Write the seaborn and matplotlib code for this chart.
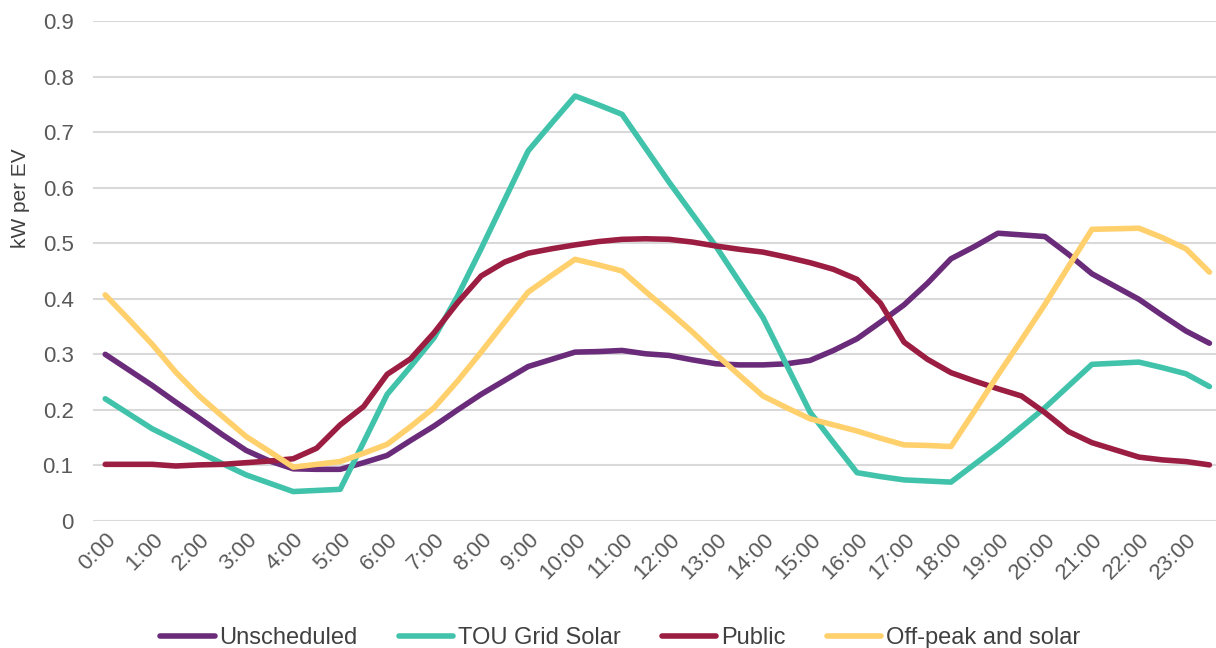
import numpy as np
import pandas as pd
import seaborn as sns
import matplotlib.pyplot as plt

# half-hourly load profiles, kW per EV
hours = [h / 2 for h in range(48)]
tick_labels = [f"{h}:00" for h in range(24)]

unscheduled = [0.300, 0.272, 0.244, 0.214, 0.185, 0.155, 0.127, 0.108, 0.094, 0.093,
               0.093, 0.105, 0.118, 0.145, 0.171, 0.200, 0.228, 0.253, 0.278, 0.291,
               0.304, 0.305, 0.307, 0.301, 0.298, 0.290, 0.283, 0.281, 0.281, 0.283,
               0.289, 0.307, 0.328, 0.358, 0.389, 0.428, 0.472, 0.494, 0.518, 0.515,
               0.512, 0.480, 0.445, 0.422, 0.399, 0.370, 0.342, 0.320]
tou_grid_solar = [0.220, 0.193, 0.166, 0.145, 0.124, 0.103, 0.083, 0.068, 0.053, 0.055,
                  0.057, 0.142, 0.228, 0.278, 0.330, 0.405, 0.490, 0.578, 0.666, 0.716,
                  0.765, 0.749, 0.732, 0.671, 0.610, 0.552, 0.494, 0.430, 0.366, 0.281,
                  0.196, 0.141, 0.087, 0.080, 0.074, 0.072, 0.070, 0.102, 0.134, 0.169,
                  0.204, 0.243, 0.282, 0.284, 0.286, 0.276, 0.265, 0.242]
public = [0.102, 0.102, 0.102, 0.099, 0.101, 0.102, 0.105, 0.108, 0.112, 0.131,
          0.173, 0.206, 0.264, 0.292, 0.339, 0.393, 0.441, 0.466, 0.482, 0.490,
          0.497, 0.503, 0.507, 0.508, 0.507, 0.502, 0.495, 0.489, 0.484, 0.475,
          0.465, 0.453, 0.435, 0.392, 0.322, 0.291, 0.267, 0.252, 0.238, 0.225,
          0.195, 0.161, 0.141, 0.128, 0.115, 0.110, 0.107, 0.101]
offpeak_solar = [0.407, 0.363, 0.318, 0.268, 0.225, 0.188, 0.152, 0.125, 0.097, 0.102,
                 0.107, 0.122, 0.138, 0.170, 0.204, 0.252, 0.304, 0.358, 0.412, 0.442,
                 0.471, 0.461, 0.450, 0.413, 0.377, 0.340, 0.300, 0.262, 0.225, 0.204,
                 0.184, 0.173, 0.162, 0.149, 0.137, 0.136, 0.134, 0.198, 0.263, 0.326,
                 0.390, 0.458, 0.525, 0.526, 0.527, 0.510, 0.490, 0.448]

series_names = ["Unscheduled", "TOU Grid Solar", "Public", "Off-peak and solar"]
colors = ["#6a2c7a", "#40c3aa", "#9b1e42", "#ffd06c"]

frames = []
for name, vals in zip(series_names, [unscheduled, tou_grid_solar, public, offpeak_solar]):
    frames.append(pd.DataFrame({"hour": hours, "kw": vals, "series": name}))
df = pd.concat(frames, ignore_index=True)

sns.set_theme(style="white")
plt.rcParams["font.family"] = ["Liberation Sans", "DejaVu Sans"]

fig = plt.figure(figsize=(12.16, 6.48), dpi=100)
ax = fig.add_axes([93 / 1216, 127 / 648, 1123 / 1216, 500 / 648])

sns.lineplot(data=df, x="hour", y="kw", hue="series", hue_order=series_names,
             palette=colors, linewidth=4.0, estimator=None, sort=False, ax=ax)
for line in ax.get_lines():
    line.set_solid_capstyle("round")
    line.set_solid_joinstyle("round")

ax.set_xlim(-0.26, 23.64)
ax.set_ylim(0, 0.9)
ax.set_yticks(np.arange(0, 0.91, 0.1))
ax.set_yticklabels(["0"] + [f"{v:.1f}" for v in np.arange(0.1, 0.91, 0.1)])
ax.set_xticks(range(24))
ax.set_xticklabels(tick_labels, rotation=45, ha="right", rotation_mode="anchor")

ax.yaxis.grid(True, color="#d9d9d9", linewidth=1.5)
ax.xaxis.grid(False)
ax.set_axisbelow(True)
sns.despine(ax=ax, left=True, bottom=True)
ax.tick_params(axis="y", length=0, pad=14, labelsize=16, labelcolor="#595959")
ax.tick_params(axis="x", length=0, pad=6, labelsize=16, labelcolor="#595959")
ax.set_xlabel("")
ax.set_ylabel("kW per EV", fontsize=15, color="#404040")
ax.yaxis.set_label_coords(-0.056, 0.645)

handles, labels = ax.get_legend_handles_labels()
ax.get_legend().remove()
fig.legend(handles, labels, loc="lower center", bbox_to_anchor=(0.51, -0.035), ncol=4,
           frameon=False, fontsize=17, handlelength=2.3, handletextpad=0.2,
           columnspacing=1.75, labelcolor="#404040")

fig.savefig("out.png", dpi=100)
